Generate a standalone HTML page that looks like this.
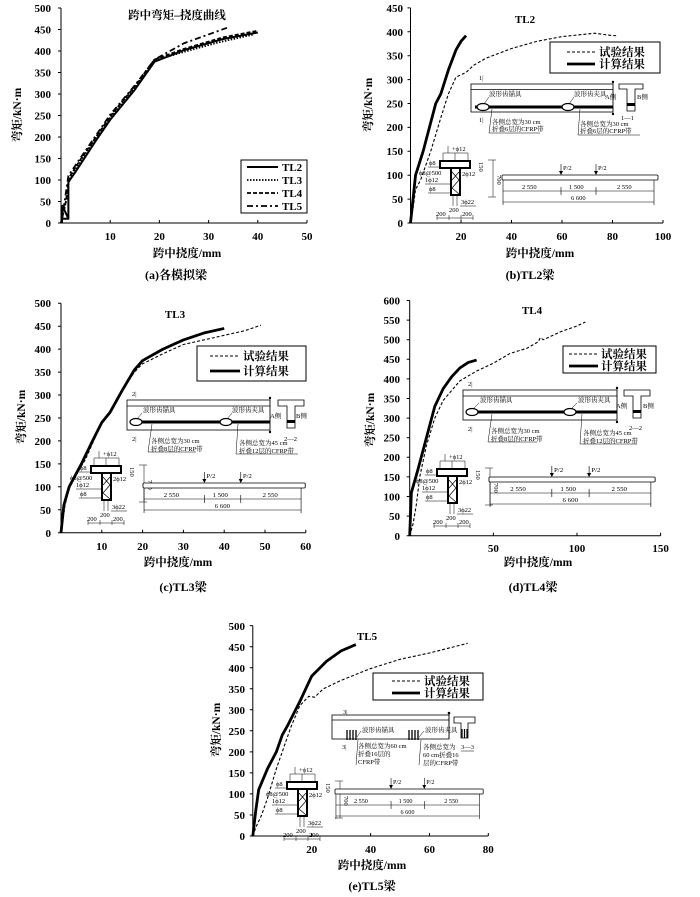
<!DOCTYPE html>
<html><head><meta charset="utf-8"><style>
html,body{margin:0;padding:0;background:#fff}
svg{display:block}
text{font-family:"Liberation Serif","Noto Serif CJK SC",serif;fill:#000}
.tk{font-size:11px;font-weight:bold}
.tr{text-anchor:end}
.tm{text-anchor:middle}
.lb{font-size:11.5px;font-weight:bold}
.cap{font-size:12px;font-weight:bold}
.lg{font-size:11.5px;font-weight:bold}
.s{font-size:6.5px}
.cv{fill:none;vector-effect:non-scaling-stroke;stroke:#000;stroke-linejoin:round}
.ax{stroke:#000;stroke-width:1;fill:none}
</style></head><body>
<svg width="700" height="897" viewBox="0 0 700 897" xmlns="http://www.w3.org/2000/svg">

<!-- ============ PANEL A ============ -->
<g>
<path class="ax" d="M61,8 V223 H307"/>
<path class="ax" d="M58,223h3M58,201.5h3M58,180h3M58,158.5h3M58,137h3M58,115.5h3M58,94h3M58,72.5h3M58,51h3M58,29.5h3M58,8h3 M110.2,223v-3M159.4,223v-3M208.6,223v-3M257.8,223v-3M307,223v-3"/>
<g class="tk tr"><text x="51" y="227">0</text><text x="51" y="205.5">50</text><text x="51" y="184">100</text><text x="51" y="162.5">150</text><text x="51" y="141">200</text><text x="51" y="119.5">250</text><text x="51" y="98">300</text><text x="51" y="76.5">350</text><text x="51" y="55">400</text><text x="51" y="33.5">450</text><text x="51" y="12">500</text></g>
<g class="tk tm"><text x="110.2" y="240">10</text><text x="159.4" y="240">20</text><text x="208.6" y="240">30</text><text x="257.8" y="240">40</text><text x="307" y="240">50</text></g>
<text class="lb tm" x="177" y="19">跨中弯矩–挠度曲线</text>
<text class="lb tm" transform="translate(21,115) rotate(-90)">弯矩/kN·m</text>
<text class="lb tm" x="187" y="257">跨中挠度/mm</text>
<text class="cap tm" x="176" y="279">(a)各模拟梁</text>
<g transform="translate(61,223) scale(4.92,-0.43)">
<path class="cv" stroke-width="2" d="M0.2,0 L0.3,40 L1.5,10 L0.3,10 M1.5,8 L1.5,95 L3,120 L7,190 L10,240 L15,310 L19,375 L25,402 L33,428 L40,443"/>
<path class="cv" stroke-width="1.8" stroke-dasharray="1.5,1.5" d="M0,0 L1.2,60 L1.6,100 L4,145 L7,195 L10,245 L15,315 L19,378 L25,398 L32,420 L39,438"/>
<path class="cv" stroke-width="1.8" stroke-dasharray="4,2" d="M0,0 L1,50 L1.6,105 L4,148 L7,198 L10,248 L15,318 L19,380 L25,405 L33,432 L40,447"/>
<path class="cv" stroke-width="1.8" stroke-dasharray="6,3,2,3" d="M0,0 L0.6,40 L1.5,110 L4,152 L10,252 L15,320 L19,380 L25,418 L34,455"/>
</g>
<rect x="241" y="160" width="66" height="53" fill="#fff" stroke="#000" stroke-width="1"/>
<path d="M247,167h31" stroke="#000" stroke-width="2"/>
<path d="M247,180h31" stroke="#000" stroke-width="1.8" stroke-dasharray="1.5,1.5"/>
<path d="M247,193h31" stroke="#000" stroke-width="1.8" stroke-dasharray="4,2"/>
<path d="M247,206h31" stroke="#000" stroke-width="1.8" stroke-dasharray="6,3,2,3"/>
<g class="tk"><text x="282" y="171">TL2</text><text x="282" y="184">TL3</text><text x="282" y="197">TL4</text><text x="282" y="210">TL5</text></g>
</g>

<!-- ============ PANEL B ============ -->
<g>
<path class="ax" d="M410.5,8 V223 H663"/>
<path class="ax" d="M407.5,223h3M407.5,199.1h3M407.5,175.2h3M407.5,151.3h3M407.5,127.4h3M407.5,103.5h3M407.5,79.6h3M407.5,55.7h3M407.5,31.8h3M407.5,7.9h3 M461,223v-3M511.5,223v-3M562,223v-3M612.5,223v-3M663,223v-3"/>
<g class="tk tr"><text x="403" y="227">0</text><text x="403" y="203">50</text><text x="403" y="179">100</text><text x="403" y="155">150</text><text x="403" y="131">200</text><text x="403" y="107.5">250</text><text x="403" y="83.5">300</text><text x="403" y="59.5">350</text><text x="403" y="36">400</text><text x="403" y="12">450</text></g>
<g class="tk tm"><text x="461" y="240">20</text><text x="511.5" y="240">40</text><text x="562" y="240">60</text><text x="612.5" y="240">80</text><text x="663" y="240">100</text></g>
<text class="tk tm" x="525" y="23">TL2</text>
<text class="lb tm" transform="translate(372,105) rotate(-90)">弯矩/kN·m</text>
<text class="lb tm" x="540" y="257">跨中挠度/mm</text>
<text class="cap tm" x="530" y="279">(b)TL2梁</text>
<g transform="translate(410.5,223) scale(2.525,-0.478)">
<path class="cv" stroke-width="1.1" stroke-dasharray="3,2" d="M0,0 L1,30 L2,70 L4,90 L8,150 L12,220 L15,270 L18,305 L22,315 L25,330 L30,345 L40,365 L50,380 L60,390 L73,397 L80,392 L82,392"/>
<path class="cv" stroke-width="2.8" d="M0,0 L1,50 L2,100 L5,150 L10,250 L12,270 L15,320 L18,362 L20,380 L22,392"/>
</g>
<rect x="550" y="42" width="110" height="31" fill="#fff" stroke="#000"/>
<path d="M567,52h28" stroke="#000" stroke-width="1.1" stroke-dasharray="3,2"/>
<path d="M567,64h28" stroke="#000" stroke-width="2.8"/>
<g class="lg"><text x="599" y="56">试验结果</text><text x="599" y="68">计算结果</text></g>
</g>

<!-- Inset templates (defined in panel B coordinates) -->
<g id="beamB">
<rect x="471" y="84" width="142" height="28" fill="#fff" stroke="#000" stroke-width="0.8"/>
<path d="M471,89.5H613" stroke="#000" stroke-width="0.8"/>
<rect x="475" y="105.5" width="138" height="3" fill="#000"/>
<ellipse cx="483" cy="107" rx="6" ry="3.5" fill="#fff" stroke="#000" stroke-width="1.2"/>
<ellipse cx="568" cy="107" rx="6" ry="3.5" fill="#fff" stroke="#000" stroke-width="1.2"/>
<circle cx="613" cy="82" r="1.2"/><circle cx="613" cy="114" r="1.2"/>
<path d="M613,82V114" stroke="#000" stroke-width="0.5"/>
<text class="s" x="479" y="80">1|</text><text class="s" x="479" y="122">1|</text>
<path d="M484,104L489,97M569,104L574,97M492,109L489,133H540M580,109L578,135H640" stroke="#000" stroke-width="0.5" fill="none"/>
<text class="s" x="489" y="96">波形齿锚具</text>
<text class="s" x="574" y="96">波形齿夹具</text>
<text class="s" x="492" y="124">各侧总宽为30 cm</text>
<text class="s" x="492" y="131">折叠6层的CFRP带</text>
<text class="s" x="580" y="126">各侧总宽为30 cm</text>
<text class="s" x="580" y="133">折叠6层的CFRP带</text>
<path d="M619,84h24v5h-8v22h-8v-22h-8z" fill="#fff" stroke="#000" stroke-width="0.8"/>
<rect x="627" y="103" width="8" height="3" fill="#000"/>
<text class="s" x="605" y="99">A侧</text><text class="s" x="637" y="99">B侧</text>
<text class="s" x="621" y="120">1—1</text>
</g>
<g id="secB">
<text class="s" x="452" y="151">+ϕ12</text>
<path d="M443,162V153H468V162M455,153V162M448,146V153" stroke="#000" stroke-width="0.5" fill="none"/>
<rect x="440" y="161" width="30" height="7" fill="none" stroke="#000" stroke-width="2"/>
<rect x="451" y="168" width="9" height="27" fill="none" stroke="#000" stroke-width="2"/>
<path d="M452,172L459,180L452,188L459,194M459,172L452,180" stroke="#000" stroke-width="0.7" fill="none"/>
<text class="s" x="429" y="165">ϕ8</text>
<text class="s" x="419" y="175">ϕ8@500</text>
<text class="s" x="425" y="182">1ϕ12</text>
<text class="s" x="429" y="191">ϕ8</text>
<text class="s" x="462" y="176">2ϕ12</text>
<text class="s" x="461" y="204">3ϕ22</text>
<path d="M428,167H441M425,184H451M428,193H451M460,206H476M453,195V206M457,195V206M493,160V197M488,160H496M488,197H496" stroke="#000" stroke-width="0.5" fill="none"/>
<text class="s" transform="translate(479,162) rotate(90)">150</text>
<text class="s" transform="translate(497,175) rotate(90)">700</text>
<text class="s" x="436" y="216">200</text><text class="s" x="449" y="212">200</text><text class="s" x="462" y="216">200</text>
<path d="M437,218H473M437,215V220M449,215V220M461,215V220M473,215V220" stroke="#000" stroke-width="0.5" fill="none"/>
</g>
<g id="spanB">
<rect x="502" y="175" width="156" height="5" rx="1" fill="#fff" stroke="#000" stroke-width="0.8"/>
<path d="M561,164V174M596,164V174M503,180V205M654,180V205M503,191H654M503,202H654M561,187V195M596,187V195" stroke="#000" stroke-width="0.6" fill="none"/>
<path d="M559,171L561,175L563,171ZM594,171L596,175L598,171Z"/>
<text class="s" x="563" y="170">P/2</text><text class="s" x="598" y="170">P/2</text>
<text class="s" x="522" y="189">2 550</text><text class="s" x="569" y="189">1 500</text><text class="s" x="617" y="189">2 550</text>
<text class="s" x="571" y="200">6 600</text>
</g>

<!-- ============ PANEL C ============ -->
<g>
<path class="ax" d="M61,303.2 V532.7 H305.8"/>
<path class="ax" d="M58,532.7h3M58,509.8h3M58,486.8h3M58,463.9h3M58,440.9h3M58,418h3M58,395h3M58,372.1h3M58,349.1h3M58,326.2h3M58,303.2h3 M101.8,532.7v-3M142.6,532.7v-3M183.4,532.7v-3M224.2,532.7v-3M265,532.7v-3M305.8,532.7v-3"/>
<g class="tk tr"><text x="51" y="537">0</text><text x="51" y="514">50</text><text x="51" y="491">100</text><text x="51" y="468">150</text><text x="51" y="445">200</text><text x="51" y="422">250</text><text x="51" y="399">300</text><text x="51" y="376">350</text><text x="51" y="353">400</text><text x="51" y="330">450</text><text x="51" y="307">500</text></g>
<g class="tk tm"><text x="101.8" y="550">10</text><text x="142.6" y="550">20</text><text x="183.4" y="550">30</text><text x="224.2" y="550">40</text><text x="265" y="550">50</text><text x="305.8" y="550">60</text></g>
<text class="tk tm" x="175" y="318">TL3</text>
<text class="lb tm" transform="translate(25,417) rotate(-90)">弯矩/kN·m</text>
<text class="lb tm" x="178" y="566">跨中挠度/mm</text>
<text class="cap tm" x="183" y="591">(c)TL3梁</text>
<g transform="translate(61,532.7) scale(4.08,-0.459)">
<path class="cv" stroke-width="1.1" stroke-dasharray="3,2" d="M0,0 L1,60 L2,100 L4,130 L6,160 L8,200 L10,240 L12,260 L15,310 L18,350 L20,368 L25,390 L30,410 L40,430 L45,440 L49,452"/>
<path class="cv" stroke-width="2.8" d="M0,0 L0.7,60 L2,100 L5,150 L8,205 L10,240 L12,262 L15,310 L18,355 L20,375 L25,400 L30,420 L35,435 L40,445"/>
</g>
<rect x="197" y="346" width="109" height="35" fill="#fff" stroke="#000"/>
<path d="M210,356h30" stroke="#000" stroke-width="1.1" stroke-dasharray="3,2"/>
<path d="M210,371h30" stroke="#000" stroke-width="2.8"/>
<g class="lg"><text x="243" y="360">试验结果</text><text x="243" y="375">计算结果</text></g>
<g transform="translate(-344,316)">
<rect x="471" y="84" width="143" height="30" fill="#fff" stroke="#000" stroke-width="0.8"/>
<path d="M471,90H614" stroke="#000" stroke-width="0.8"/>
<rect x="475" y="104.5" width="139" height="3" fill="#000"/>
<ellipse cx="480" cy="106" rx="6" ry="3.5" fill="#fff" stroke="#000" stroke-width="1.2"/>
<ellipse cx="570" cy="106" rx="6" ry="3.5" fill="#fff" stroke="#000" stroke-width="1.2"/>
<circle cx="614" cy="82" r="1.2"/><circle cx="614" cy="116" r="1.2"/>
<path d="M614,82V116" stroke="#000" stroke-width="0.5"/>
<text class="s" x="476" y="80">2|</text><text class="s" x="476" y="125">2|</text>
<path d="M481,103L486,97M571,103L576,97M496,108L492,136H540M582,108L580,138H642" stroke="#000" stroke-width="0.5" fill="none"/>
<text class="s" x="487" y="96">波形齿锚具</text>
<text class="s" x="576" y="96">波形齿夹具</text>
<text class="s" x="495" y="127">各侧总宽为30 cm</text>
<text class="s" x="495" y="135">折叠8层的CFRP带</text>
<text class="s" x="583" y="129">各侧总宽为45 cm</text>
<text class="s" x="583" y="137">折叠12层的CFRP带</text>
<path d="M622,84h26v6h-9v22h-8v-22h-9z" fill="#fff" stroke="#000" stroke-width="0.8"/>
<rect x="631" y="104" width="8" height="3" fill="#000"/>
<text class="s" x="614" y="102">A侧</text><text class="s" x="640" y="102">B侧</text>
<text class="s" x="628" y="125">2—2</text>
</g>
<g transform="translate(-349,305)">
<text class="s" x="452" y="151">+ϕ12</text>
<path d="M443,162V153H468V162M455,153V162M448,146V153" stroke="#000" stroke-width="0.5" fill="none"/>
<rect x="440" y="161" width="30" height="7" fill="none" stroke="#000" stroke-width="2"/>
<rect x="451" y="168" width="9" height="27" fill="none" stroke="#000" stroke-width="2"/>
<path d="M452,172L459,180L452,188L459,194M459,172L452,180" stroke="#000" stroke-width="0.7" fill="none"/>
<text class="s" x="429" y="165">ϕ8</text><text class="s" x="419" y="175">ϕ8@500</text><text class="s" x="425" y="182">1ϕ12</text><text class="s" x="429" y="191">ϕ8</text>
<text class="s" x="462" y="176">2ϕ12</text><text class="s" x="461" y="204">3ϕ22</text>
<path d="M428,167H441M425,184H451M428,193H451M460,206H476M453,195V206M457,195V206M493,160V197M488,160H496M488,197H496" stroke="#000" stroke-width="0.5" fill="none"/>
<text class="s" transform="translate(479,162) rotate(90)">150</text><text class="s" transform="translate(497,175) rotate(90)">700</text>
<text class="s" x="436" y="216">200</text><text class="s" x="449" y="212">200</text><text class="s" x="462" y="216">200</text>
<path d="M437,218H473M437,215V220M449,215V220M461,215V220M473,215V220" stroke="#000" stroke-width="0.5" fill="none"/>
</g>
<g transform="translate(-359,308) translate(502,0) scale(1.04,1) translate(-502,0)">
<rect x="502" y="175" width="156" height="5" rx="1" fill="#fff" stroke="#000" stroke-width="0.8"/>
<path d="M561,164V174M596,164V174M503,180V205M654,180V205M503,191H654M503,202H654M561,187V195M596,187V195" stroke="#000" stroke-width="0.6" fill="none"/>
<path d="M559,171L561,175L563,171ZM594,171L596,175L598,171Z"/>
<text class="s" x="563" y="170">P/2</text><text class="s" x="598" y="170">P/2</text>
<text class="s" x="522" y="189">2 550</text><text class="s" x="569" y="189">1 500</text><text class="s" x="617" y="189">2 550</text>
<text class="s" x="571" y="200">6 600</text>
</g>
</g>

<!-- ============ PANEL D ============ -->
<g>
<path class="ax" d="M409.7,300.5 V535.7 H660.6"/>
<path class="ax" d="M406.7,535.7h3M406.7,516.1h3M406.7,496.5h3M406.7,476.9h3M406.7,457.3h3M406.7,437.7h3M406.7,418.1h3M406.7,398.5h3M406.7,378.9h3M406.7,359.3h3M406.7,339.7h3M406.7,320.1h3M406.7,300.5h3 M493.4,535.7v-3M577,535.7v-3M660.6,535.7v-3"/>
<g class="tk tr"><text x="400" y="540">0</text><text x="400" y="520">50</text><text x="400" y="500.5">100</text><text x="400" y="481">150</text><text x="400" y="461">200</text><text x="400" y="441.5">250</text><text x="400" y="422">300</text><text x="400" y="402.5">350</text><text x="400" y="383">400</text><text x="400" y="363">450</text><text x="400" y="343.5">500</text><text x="400" y="324">550</text><text x="400" y="304.5">600</text></g>
<g class="tk tm"><text x="493.4" y="552">50</text><text x="577" y="552">100</text><text x="660.6" y="552">150</text></g>
<text class="tk tm" x="532" y="314">TL4</text>
<text class="lb tm" transform="translate(374,420) rotate(-90)">弯矩/kN·m</text>
<text class="lb tm" x="538" y="566">跨中挠度/mm</text>
<text class="cap tm" x="533" y="591">(d)TL4梁</text>
<g transform="translate(409.7,535.7) scale(1.673,-0.392)">
<path class="cv" stroke-width="1.1" stroke-dasharray="3,2" d="M0,0 L2,30 L4,80 L6,150 L10,230 L15,300 L20,345 L25,370 L30,395 L40,420 L50,440 L60,465 L70,478 L77,495 L78,505 L80,500 L90,520 L100,535 L105,545"/>
<path class="cv" stroke-width="2.8" d="M0,0 L1,110 L5,170 L10,250 L15,330 L20,375 L25,405 L30,428 L35,442 L40,448"/>
</g>
<rect x="563" y="346" width="93" height="27" fill="#fff" stroke="#000"/>
<path d="M569,354h29" stroke="#000" stroke-width="1.1" stroke-dasharray="3,2"/>
<path d="M569,366h29" stroke="#000" stroke-width="2.8"/>
<g class="lg"><text x="601" y="358">试验结果</text><text x="601" y="370">计算结果</text></g>
<g transform="translate(-8,306)">
<rect x="471" y="84" width="154" height="30" fill="#fff" stroke="#000" stroke-width="0.8"/>
<path d="M471,90H625" stroke="#000" stroke-width="0.8"/>
<rect x="474" y="104.5" width="151" height="3" fill="#000"/>
<ellipse cx="480" cy="106" rx="6" ry="3.5" fill="#fff" stroke="#000" stroke-width="1.2"/>
<ellipse cx="578" cy="106" rx="6" ry="3.5" fill="#fff" stroke="#000" stroke-width="1.2"/>
<circle cx="625" cy="82" r="1.2"/><circle cx="625" cy="116" r="1.2"/>
<path d="M625,82V116" stroke="#000" stroke-width="0.5"/>
<text class="s" x="476" y="80">2|</text><text class="s" x="476" y="125">2|</text>
<path d="M481,103L487,97M579,103L585,97M500,108L496,136H545M590,108L588,138H645" stroke="#000" stroke-width="0.5" fill="none"/>
<text class="s" x="488" y="96">波形齿锚具</text>
<text class="s" x="586" y="96">波形齿夹具</text>
<text class="s" x="499" y="127">各侧总宽为30 cm</text>
<text class="s" x="499" y="135">折叠8层的CFRP带</text>
<text class="s" x="591" y="129">各侧总宽为45 cm</text>
<text class="s" x="591" y="137">折叠12层的CFRP带</text>
<path d="M632,84h26v6h-9v22h-8v-22h-9z" fill="#fff" stroke="#000" stroke-width="0.8"/>
<rect x="641" y="104" width="8" height="3" fill="#000"/>
<text class="s" x="624" y="102">A侧</text><text class="s" x="651" y="102">B侧</text>
<text class="s" x="637" y="124">2—2</text>
</g>
<g transform="translate(-3,308)">
<text class="s" x="452" y="151">+ϕ12</text>
<path d="M443,162V153H468V162M455,153V162M448,146V153" stroke="#000" stroke-width="0.5" fill="none"/>
<rect x="440" y="161" width="30" height="7" fill="none" stroke="#000" stroke-width="2"/>
<rect x="451" y="168" width="9" height="27" fill="none" stroke="#000" stroke-width="2"/>
<path d="M452,172L459,180L452,188L459,194M459,172L452,180" stroke="#000" stroke-width="0.7" fill="none"/>
<text class="s" x="429" y="165">ϕ8</text><text class="s" x="419" y="175">ϕ8@500</text><text class="s" x="425" y="182">1ϕ12</text><text class="s" x="429" y="191">ϕ8</text>
<text class="s" x="462" y="176">2ϕ12</text><text class="s" x="461" y="204">3ϕ22</text>
<path d="M428,167H441M425,184H451M428,193H451M460,206H476M453,195V206M457,195V206M493,160V197M488,160H496M488,197H496" stroke="#000" stroke-width="0.5" fill="none"/>
<text class="s" transform="translate(479,162) rotate(90)">150</text><text class="s" transform="translate(497,175) rotate(90)">700</text>
<text class="s" x="436" y="216">200</text><text class="s" x="449" y="212">200</text><text class="s" x="462" y="216">200</text>
<path d="M437,218H473M437,215V220M449,215V220M461,215V220M473,215V220" stroke="#000" stroke-width="0.5" fill="none"/>
</g>
<g transform="translate(-13,302) translate(502,0) scale(1.065,1) translate(-502,0)">
<rect x="502" y="175" width="156" height="5" rx="1" fill="#fff" stroke="#000" stroke-width="0.8"/>
<path d="M561,164V174M596,164V174M503,180V205M654,180V205M503,191H654M503,202H654M561,187V195M596,187V195" stroke="#000" stroke-width="0.6" fill="none"/>
<path d="M559,171L561,175L563,171ZM594,171L596,175L598,171Z"/>
<text class="s" x="563" y="170">P/2</text><text class="s" x="598" y="170">P/2</text>
<text class="s" x="522" y="189">2 550</text><text class="s" x="569" y="189">1 500</text><text class="s" x="617" y="189">2 550</text>
<text class="s" x="571" y="200">6 600</text>
</g>
</g>

<!-- ============ PANEL E ============ -->
<g>
<path class="ax" d="M252.8,625.6 V836 H488.3"/>
<path class="ax" d="M249.8,836h3M249.8,815h3M249.8,793.9h3M249.8,772.9h3M249.8,751.9h3M249.8,730.8h3M249.8,709.8h3M249.8,688.8h3M249.8,667.7h3M249.8,646.7h3M249.8,625.6h3 M311.7,836v-3M370.6,836v-3M429.5,836v-3M488.3,836v-3"/>
<g class="tk tr"><text x="245" y="840">0</text><text x="245" y="819">50</text><text x="245" y="798">100</text><text x="245" y="777">150</text><text x="245" y="756">200</text><text x="245" y="735">250</text><text x="245" y="714">300</text><text x="245" y="693">350</text><text x="245" y="672">400</text><text x="245" y="651">450</text><text x="245" y="630">500</text></g>
<g class="tk tm"><text x="311.7" y="853">20</text><text x="370.6" y="853">40</text><text x="429.5" y="853">60</text><text x="488.3" y="853">80</text></g>
<text class="tk tm" x="367" y="640">TL5</text>
<text class="lb tm" transform="translate(220,730) rotate(-90)">弯矩/kN·m</text>
<text class="lb tm" x="372" y="869">跨中挠度/mm</text>
<text class="cap tm" x="372" y="890">(e)TL5梁</text>
<g transform="translate(252.8,836) scale(2.944,-0.4207)">
<path class="cv" stroke-width="1.1" stroke-dasharray="3,2" d="M0,0 L1,20 L3,50 L5,90 L8,160 L10,200 L13,260 L16,310 L19,332 L21,330 L24,350 L30,370 L40,398 L50,420 L60,435 L73,458"/>
<path class="cv" stroke-width="2.8" d="M0,0 L1,60 L2,110 L5,160 L8,200 L10,240 L12,265 L16,320 L20,380 L25,415 L30,440 L35,455"/>
</g>
<rect x="373" y="673" width="110" height="27" fill="#fff" stroke="#000"/>
<path d="M392,681h28" stroke="#000" stroke-width="1.1" stroke-dasharray="3,2"/>
<path d="M392,693h28" stroke="#000" stroke-width="2.8"/>
<g class="lg"><text x="424" y="685">试验结果</text><text x="424" y="697">计算结果</text></g>
<!-- e beam inset -->
<rect x="332" y="715" width="117" height="24" fill="#fff" stroke="#000" stroke-width="0.8"/>
<path d="M332,720H449M449,713V739" stroke="#000" stroke-width="0.8"/>
<circle cx="449" cy="713" r="1.3"/>
<path d="M347,730v10M350,730v10M353,730v10M356,730v10M409,730v10M412,730v10M415,730v10M418,730v10" stroke="#000" stroke-width="1.3"/>
<text class="s" x="343" y="714">3|</text><text class="s" x="342" y="749">3|</text>
<text class="s" x="362" y="732">波形齿锚具</text>
<text class="s" x="425" y="732">波形齿夹具</text>
<path d="M357,737L361,731M419,737L424,731M358,740L356,765M421,740L419,765" stroke="#000" stroke-width="0.5" fill="none"/>
<text class="s" x="358" y="748">各侧总宽为60 cm</text>
<text class="s" x="358" y="756">折叠16层的</text>
<text class="s" x="358" y="764">CFRP带</text>
<text class="s" x="423" y="749">各侧总宽为</text>
<text class="s" x="423" y="757">60 cm折叠16</text>
<text class="s" x="423" y="765">层的CFRP带</text>
<text class="s" x="461" y="749">3—3</text>
<path d="M461,751H474" stroke="#000" stroke-width="0.5"/>
<path d="M454,717h21v6h-7v15h-7v-15h-7z" fill="#fff" stroke="#000" stroke-width="0.8"/>
<path d="M462,729v9M464.5,729v9M467,729v9" stroke="#000" stroke-width="1.2"/>
<g transform="translate(-153,621)">
<text class="s" x="452" y="151">+ϕ12</text>
<path d="M443,162V153H468V162M455,153V162M448,146V153" stroke="#000" stroke-width="0.5" fill="none"/>
<rect x="440" y="161" width="30" height="7" fill="none" stroke="#000" stroke-width="2"/>
<rect x="451" y="168" width="9" height="27" fill="none" stroke="#000" stroke-width="2"/>
<path d="M452,172L459,180L452,188L459,194M459,172L452,180" stroke="#000" stroke-width="0.7" fill="none"/>
<text class="s" x="429" y="165">ϕ8</text><text class="s" x="419" y="175">ϕ8@500</text><text class="s" x="425" y="182">1ϕ12</text><text class="s" x="429" y="191">ϕ8</text>
<text class="s" x="462" y="176">2ϕ12</text><text class="s" x="461" y="204">3ϕ22</text>
<path d="M428,167H441M425,184H451M428,193H451M460,206H476M453,195V206M457,195V206M493,160V197M488,160H496M488,197H496" stroke="#000" stroke-width="0.5" fill="none"/>
<text class="s" transform="translate(479,162) rotate(90)">150</text><text class="s" transform="translate(497,175) rotate(90)">700</text>
<text class="s" x="436" y="216">200</text><text class="s" x="449" y="212">200</text><text class="s" x="462" y="216">200</text>
<path d="M437,218H473M437,215V220M449,215V220M461,215V220M473,215V220" stroke="#000" stroke-width="0.5" fill="none"/>
</g>
<g transform="translate(-167,614) translate(502,0) scale(0.95,1) translate(-502,0)">
<rect x="502" y="175" width="156" height="5" rx="1" fill="#fff" stroke="#000" stroke-width="0.8"/>
<path d="M561,164V174M596,164V174M503,180V205M654,180V205M503,191H654M503,202H654M561,187V195M596,187V195" stroke="#000" stroke-width="0.6" fill="none"/>
<path d="M559,171L561,175L563,171ZM594,171L596,175L598,171Z"/>
<text class="s" x="563" y="170">P/2</text><text class="s" x="598" y="170">P/2</text>
<text class="s" x="522" y="189">2 550</text><text class="s" x="569" y="189">1 500</text><text class="s" x="617" y="189">2 550</text>
<text class="s" x="571" y="200">6 600</text>
</g>
</g>
</svg>
</body></html>
